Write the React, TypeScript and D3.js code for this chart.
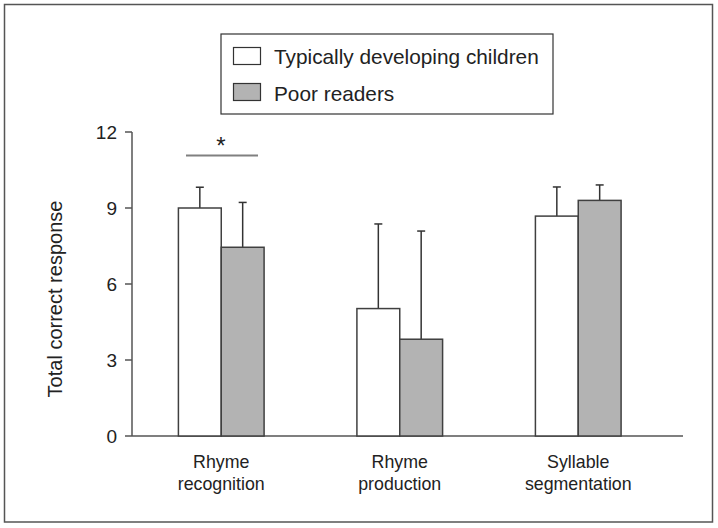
import * as d3 from 'd3'

// * Chart data
const categories = [['Rhyme', 'recognition'], ['Rhyme', 'production'], ['Syllable', 'segmentation']]
const seriesNames = ['Typically developing children', 'Poor readers']
const seriesFills = ['#ffffff', '#b3b3b3']
const typicalMeans = [9.0, 5.03, 8.68]
const typicalSD = [0.82, 3.34, 1.15]
const poorMeans = [7.45, 3.82, 9.3]
const poorSD = [1.77, 4.27, 0.61]
const yTicks = [0, 3, 6, 9, 12]

const font = '"Liberation Sans", Arial, sans-serif'

export default function App() {
  const W = 718
  const H = 528

  const y = d3.scaleLinear().domain([0, 12]).range([436, 132])
  const x0 = d3
    .scaleBand<number>()
    .domain(categories.map((_, i) => i))
    .range([132, 667.5])
    .paddingInner(0.52)
    .paddingOuter(0.26)
  const x1 = d3.scaleBand<number>().domain([0, 1]).range([0, x0.bandwidth()])

  const means = [typicalMeans, poorMeans]
  const sds = [typicalSD, poorSD]

  return (
    <svg width={W} height={H} style={{ position: 'absolute', left: 0, top: 0 }}>
      <rect x={0} y={0} width={W} height={H} fill="#fff" />
      <rect x={4.5} y={4.5} width={708} height={517.5} fill="none" stroke="#555" strokeWidth={1.5} />

      {/* legend */}
      <rect x={221} y={34} width={332} height={80} fill="#fff" stroke="#333" strokeWidth={1.2} />
      {seriesNames.map((name, i) => (
        <g key={name}>
          <rect x={233.5} y={i === 0 ? 47.5 : 83.5} width={27} height={17} fill={seriesFills[i]} stroke="#333" strokeWidth={1.2} />
          <text x={274} y={i === 0 ? 64 : 101} fontFamily={font} fontSize={20.8} fill="#222">
            {name}
          </text>
        </g>
      ))}

      {/* y axis */}
      <line x1={132} x2={132} y1={y(12)} y2={y(0)} stroke="#555" strokeWidth={1.5} />
      <line x1={132} x2={683} y1={y(0)} y2={y(0)} stroke="#555" strokeWidth={1.5} />
      {yTicks.map((t) => (
        <g key={t}>
          <line x1={125} x2={132} y1={y(t)} y2={y(t)} stroke="#555" strokeWidth={1.5} />
          <text x={117} y={y(t)} dy="0.36em" textAnchor="end" fontFamily={font} fontSize={19} fill="#222">
            {t}
          </text>
        </g>
      ))}
      <text
        transform={`translate(62, ${y(6) + 15}) rotate(-90)`}
        textAnchor="middle"
        fontFamily={font}
        fontSize={20}
        fill="#222"
      >
        Total correct response
      </text>

      {/* bars */}
      {categories.map((cat, ci) => (
        <g key={ci} transform={`translate(${x0(ci)}, 0)`}>
          {[0, 1].map((si) => {
            const bx = x1(si)!
            const bw = x1.bandwidth()
            const cx = bx + bw / 2
            const m = means[si][ci]
            const top = y(m + sds[si][ci])
            return (
              <g key={si}>
                <line x1={cx} x2={cx} y1={y(m)} y2={top} stroke="#333" strokeWidth={1.5} />
                <line x1={cx - 4} x2={cx + 4} y1={top} y2={top} stroke="#333" strokeWidth={1.5} />
                <rect
                  x={bx}
                  y={y(m)}
                  width={bw}
                  height={y(0) - y(m)}
                  fill={seriesFills[si]}
                  stroke="#404040"
                  strokeWidth={1.5}
                />
              </g>
            )
          })}
          <text x={x0.bandwidth() / 2} y={468} textAnchor="middle" fontFamily={font} fontSize={17.8} fill="#222">
            {cat[0]}
          </text>
          <text x={x0.bandwidth() / 2} y={490} textAnchor="middle" fontFamily={font} fontSize={17.8} fill="#222">
            {cat[1]}
          </text>
        </g>
      ))}

      {/* significance marker */}
      <line x1={186} x2={258} y1={155.5} y2={155.5} stroke="#808080" strokeWidth={2} />
      <text x={221} y={154} textAnchor="middle" fontFamily={font} fontSize={24} fill="#222">
        *
      </text>
    </svg>
  )
}
